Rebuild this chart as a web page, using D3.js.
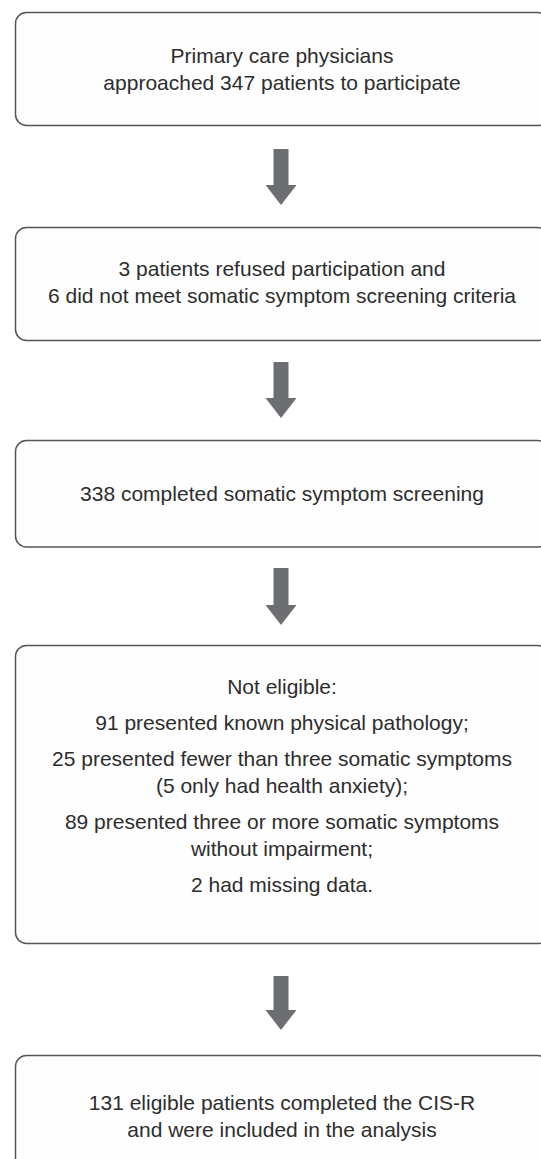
<!DOCTYPE html>
<html>
<head>
<meta charset="utf-8">
<script src="https://cdn.jsdelivr.net/npm/d3@7"></script>
<style>
  html, body { margin: 0; padding: 0; background: #fff; }
  svg { display: block; }
</style>
</head>
<body>
<div id="chart"></div>
<script>
// Flow chart text, one array of lines per box (paragraph breaks marked with "")
var step1 = ["Primary care physicians", "approached 347 patients to participate"];
var step2 = ["3 patients refused participation and", "6 did not meet somatic symptom screening criteria"];
var step3 = ["338 completed somatic symptom screening"];
var step4 = ["Not eligible:", "",
             "91 presented known physical pathology;", "",
             "25 presented fewer than three somatic symptoms", "(5 only had health anxiety);", "",
             "89 presented three or more somatic symptoms", "without impairment;", "",
             "2 had missing data."];
var step5 = ["131 eligible patients completed the CIS-R", "and were included in the analysis"];
var steps = [step1, step2, step3, step4, step5];

// Layout (pixels): box edges, text block middles, arrows
var width = 541, height = 1159;
var boxLeft = 15.5, boxRight = 548.5;
var boxTops = [12.5, 227.5, 440.5, 645.5, 1055.5],
    boxBottoms = [125.5, 340.5, 547, 943.5, 1178];
var textMids = [68.5, 282, 493.5, 785, 1116];
var lineGap = 27, paraGap = 9;

var svg = d3.select("#chart").append("svg")
    .attr("width", width)
    .attr("height", height);

var cx = (boxLeft + boxRight) / 2;

// Boxes
svg.selectAll("rect.box")
    .data(steps)
    .enter()
  .append("rect")
    .attr("class", "box")
    .attr("x", boxLeft)
    .attr("y", function(d, i) { return boxTops[i]; })
    .attr("width", boxRight - boxLeft)
    .attr("height", function(d, i) { return boxBottoms[i] - boxTops[i]; })
    .attr("rx", 11)
    .attr("ry", 11)
    .attr("fill", "#fefefe")
    .attr("stroke", "#555")
    .attr("stroke-width", 1.5);

// Text lines, stacked around each box's text middle
steps.forEach(function(lines, i) {
  var ys = [], y = 0;
  lines.forEach(function(l) {
    if (l === "") { y += paraGap; return; }
    if (ys.length) y += lineGap;
    ys.push({text: l, y: y});
  });
  var off = textMids[i] - y / 2;
  svg.append("g").selectAll("text")
      .data(ys)
      .enter()
    .append("text")
      .attr("x", cx)
      .attr("y", function(d) { return d.y + off; })
      .attr("dy", "0.36em")
      .attr("text-anchor", "middle")
      .attr("font-family", "'Liberation Sans', Arial, Helvetica, sans-serif")
      .attr("font-size", 21)
      .attr("fill", "#2d2d2d")
      .text(function(d) { return d.text; });
});

// Arrows between boxes
var arrowX = 281, shaftW = 15, headW = 31, headH = 20;
var arrows = [
  {top: 149, tip: 205},
  {top: 362, tip: 418},
  {top: 568, tip: 625},
  {top: 976, tip: 1030}
];
svg.selectAll("path.arrow")
    .data(arrows)
    .enter()
  .append("path")
    .attr("class", "arrow")
    .attr("fill", "#6d6e71")
    .attr("d", function(d) {
      var p = d3.path(), hs = d.tip - headH;
      p.moveTo(arrowX - shaftW / 2, d.top);
      p.lineTo(arrowX + shaftW / 2, d.top);
      p.lineTo(arrowX + shaftW / 2, hs);
      p.lineTo(arrowX + headW / 2, hs);
      p.lineTo(arrowX, d.tip);
      p.lineTo(arrowX - headW / 2, hs);
      p.lineTo(arrowX - shaftW / 2, hs);
      p.closePath();
      return p.toString();
    });
</script>
</body>
</html>
